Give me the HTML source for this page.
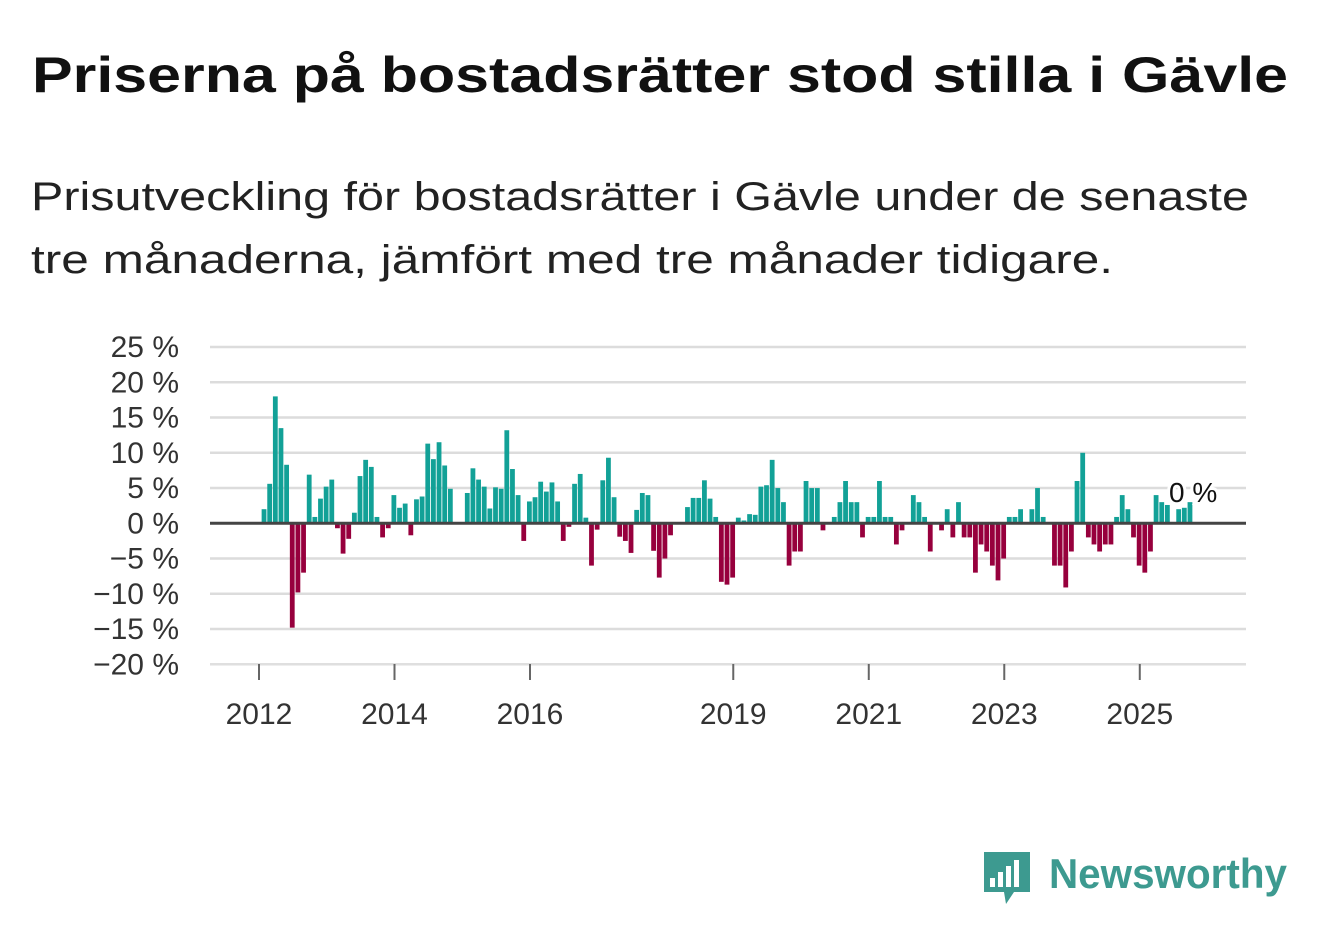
<!DOCTYPE html>
<html><head><meta charset="utf-8"><style>
body{margin:0;background:#fff;width:1322px;height:939px;overflow:hidden}
svg{display:block;font-family:"Liberation Sans",sans-serif}
</style></head><body>
<svg id="chart" width="1322" height="939" viewBox="0 0 1322 939">
<text x="32" y="92" font-size="50" font-weight="bold" fill="#111" textLength="1256" lengthAdjust="spacingAndGlyphs">Priserna på bostadsrätter stod stilla i Gävle</text>
<text x="31" y="210" font-size="40" fill="#222" textLength="1218" lengthAdjust="spacingAndGlyphs">Prisutveckling för bostadsrätter i Gävle under de senaste</text>
<text x="31" y="273" font-size="40" fill="#222" textLength="1082" lengthAdjust="spacingAndGlyphs">tre månaderna, jämfört med tre månader tidigare.</text>
<g id="grid"></g><g id="bars"></g><g id="axes"></g>
<g>
<path d="M984 852 h46 v40 h-16 l-8 12 l-2 -12 h-20 z" fill="#3d9a90"/>
<rect x="990" y="878" width="5" height="9" fill="#fff"/><rect x="998" y="872" width="5" height="15" fill="#fff"/><rect x="1006" y="866" width="5" height="21" fill="#fff"/><rect x="1014" y="860" width="5" height="27" fill="#fff"/>
<text x="1049" y="888" font-size="42" font-weight="bold" fill="#3d9a90" textLength="238" lengthAdjust="spacingAndGlyphs">Newsworthy</text>
</g>
</svg>
<script>
const yTicks = [25, 20, 15, 10, 5, 0, -5, -10, -15, -20];
const yearLabels = [2012, 2014, 2016, 2019, 2021, 2023, 2025];
const values = [2,5.6,18,13.5,8.3,-14.8,-9.8,-7,6.9,0.9,3.5,5.2,6.2,-0.7,-4.3,-2.2,1.5,6.7,9,8,0.9,-2,-0.7,4,2.2,2.8,-1.7,3.4,3.8,11.3,9.1,11.5,8.2,4.9,
null,null,4.3,7.8,6.2,5.2,2.1,5.1,4.9,13.2,7.7,4,-2.5,3.1,3.7,5.9,4.5,5.8,3.1,-2.5,-0.5,5.6,7,0.8,-6,-0.9,6.1,9.3,3.7,-1.9,-2.5,-4.2,1.9,4.3,4,-3.9,-7.7,-5,-1.7,
null,null,2.3,3.6,3.6,6.1,3.5,0.9,-8.3,-8.7,-7.7,0.8,0.4,1.3,1.2,5.2,5.4,9,5,3,-6,-4,-4,6,5,5,-1,
null,0.9,3,6,3,3,-2,0.9,0.9,6,0.9,0.9,-3,-1,
null,4,3,0.9,-4,null,-1,2,-2,3,-2,-2,-7,-3,-4,-6,-8.1,-5,0.9,0.9,2,
null,2,5,0.9,null,-6,-6,-9.1,-4,6,10,-2,-3,-4,-3,-3,0.9,4,2,-2,-6,-7,-4,4,3,2.6,null,2,2.2,3];
const lastLabel = "0 %";
const NS='http://www.w3.org/2000/svg';
const y = v => 523.3 - v*7.05;
const xm = m => 259 + 5.646*m;
const xb = i => xm(i + 0.89);
function mk(tag, attrs, parent){const e=document.createElementNS(NS,tag);for(const k in attrs)e.setAttribute(k,attrs[k]);parent.appendChild(e);return e;}
const grid=document.getElementById('grid'), bars=document.getElementById('bars'), axes=document.getElementById('axes');
yTicks.forEach(t=>{
  if(t!==0){const l=mk('line',{x1:210,x2:1246,y1:y(t),y2:y(t),stroke:'#dcdcdc','stroke-width':2.5},grid);
  
  }
  const tx=mk('text',{x:179,y:y(t)+10,'font-size':30,'text-anchor':'end',fill:'#333'},axes);
  tx.textContent=(t<0?'\u2212'+(-t):t)+' %';
  
  
});
const base=mk('line',{x1:210,x2:1246,y1:664,y2:664,stroke:'#e0e0e0','stroke-width':1.5},axes);


yearLabels.forEach(yr=>{
  const x=xm((yr-2012)*12);
  const tk=mk('line',{x1:x,x2:x,y1:664,y2:680,stroke:'#666','stroke-width':2},axes);
  
  
  const tx=mk('text',{x:x,y:724,'font-size':30,'text-anchor':'middle',fill:'#333'},axes);
  tx.textContent=yr;
  
  
});
let lastI=0;
values.forEach((v,i)=>{
  if(v===null)return;
  lastI=i;
  const cx=xb(i);
  const r=mk('rect',{x:cx-2.4,width:4.8,y:Math.min(y(v),y(0)),height:Math.abs(y(v)-y(0)),fill:v>=0?'#12a197':'#97003d'},bars);
  
  
});
const zl=mk('line',{x1:210,x2:1246,y1:y(0),y2:y(0),stroke:'#444','stroke-width':3},axes);


const lbl=mk('text',{x:xb(lastI)-21,y:y(values[lastI])-0,'font-size':28,fill:'#111',stroke:'#fff','stroke-width':6,'paint-order':'stroke'},axes);
lbl.textContent=lastLabel;


</script>
</body></html>
